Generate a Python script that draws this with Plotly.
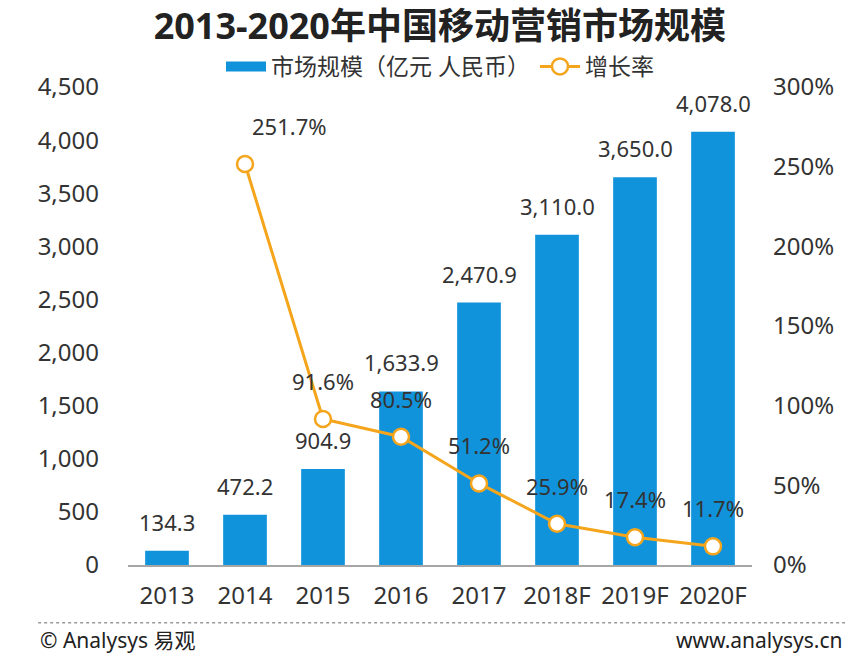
import plotly.graph_objects as go

categories = ["2013", "2014", "2015", "2016", "2017", "2018F", "2019F", "2020F"]
market_size = [134.3, 472.2, 904.9, 1633.9, 2470.9, 3110.0, 3650.0, 4078.0]
growth_years = ["2014", "2015", "2016", "2017", "2018F", "2019F", "2020F"]
growth_rate = [2.517, 0.916, 0.805, 0.512, 0.259, 0.174, 0.117]
left_ticks = [0, 500, 1000, 1500, 2000, 2500, 3000, 3500, 4000, 4500]
right_ticks = [0, 0.5, 1.0, 1.5, 2.0, 2.5, 3.0]

FONT = "Noto Sans, Noto Sans CJK SC, sans-serif"
TXT = "#333333"
BLUE = "#1193dc"
ORANGE = "#f5a51c"
FS = 22
TFS = 24

fig = go.Figure()
fig.add_trace(go.Bar(
    x=categories, y=market_size, name="市场规模（亿元 人民币）",
    marker=dict(color=BLUE, line=dict(width=0)),
    yaxis="y", showlegend=False,
))
# legend stand-in for the bars (wide rectangle swatch)
fig.add_trace(go.Scatter(
    x=[None], y=[None], name="市场规模（亿元 人民币）", mode="lines",
    line=dict(color=BLUE, width=14), showlegend=True,
))
fig.add_trace(go.Scatter(
    x=growth_years, y=growth_rate, name="增长率", mode="lines+markers",
    line=dict(color=ORANGE, width=3),
    marker=dict(size=16, color="white", line=dict(color=ORANGE, width=2.5)),
    yaxis="y2", cliponaxis=False,
))

annotations = []
for i, (c, v) in enumerate(zip(categories, market_size)):
    annotations.append(dict(
        x=i, y=v, xref="x", yref="y", text=f"{v:,.1f}", showarrow=False,
        yshift=29, font=dict(size=FS, color=TXT, family=FONT),
    ))
for i, (c, g) in enumerate(zip(growth_years, growth_rate)):
    annotations.append(dict(
        x=categories.index(c), y=g, xref="x", yref="y2", text=f"{g*100:.1f}%", showarrow=False,
        yshift=38, xshift=44 if i == 0 else 0,
        font=dict(size=FS, color=TXT, family=FONT),
    ))

annotations += [
    dict(x=-0.144, y=-0.157, xref="paper", yref="paper", text="© Analysys 易观", showarrow=False,
         xanchor="left", yanchor="middle", font=dict(size=21, color="#222", family=FONT)),
    dict(x=1.149, y=-0.157, xref="paper", yref="paper", text="www.analysys.cn", showarrow=False,
         xanchor="right", yanchor="middle", font=dict(size=21, color="#222", family=FONT)),
]

fig.update_layout(
    width=854, height=670,
    paper_bgcolor="white", plot_bgcolor="white",
    margin=dict(l=128, r=102, t=87, b=105),
    title=dict(text="<b>2013-2020年中国移动营销市场规模</b>", x=0.515, xanchor="center",
               y=0.96, yanchor="middle", font=dict(size=36, color="#222", family=FONT)),
    legend=dict(orientation="h", x=0.5, xanchor="center", y=1.043, yanchor="middle",
                font=dict(size=23, color=TXT, family=FONT), itemwidth=40,
                bgcolor="rgba(0,0,0,0)", traceorder="normal"),
    bargap=0.44,
    xaxis=dict(type="category", categoryorder="array", categoryarray=categories,
               range=[-0.5, 7.5], autorange=False,
               showline=True, linecolor="#a6a6a6",
               linewidth=2, ticks="", tickfont=dict(size=TFS, color=TXT, family=FONT),
               showgrid=False, ticklabelstandoff=8),
    yaxis=dict(range=[0, 4500], autorange=False, tickvals=left_ticks, tickformat=",", showgrid=False,
               zeroline=False, showline=False, tickfont=dict(size=TFS, color=TXT, family=FONT),
               ticklabelstandoff=28),
    yaxis2=dict(range=[0, 3], autorange=False, tickvals=right_ticks, tickformat=".0%", overlaying="y",
                side="right", showgrid=False, zeroline=False, showline=False,
                tickfont=dict(size=TFS, color=TXT, family=FONT), ticklabelstandoff=20),
    annotations=annotations,
    shapes=[dict(type="line", xref="paper", yref="paper", x0=-0.144, x1=1.149, y0=-0.121, y1=-0.121,
                 line=dict(color="#999", width=1.5, dash="dot"))],
    showlegend=True,
)

fig.write_html("out.html", config={"displayModeBar": False},
               post_script="document.body.style.margin='0';")
